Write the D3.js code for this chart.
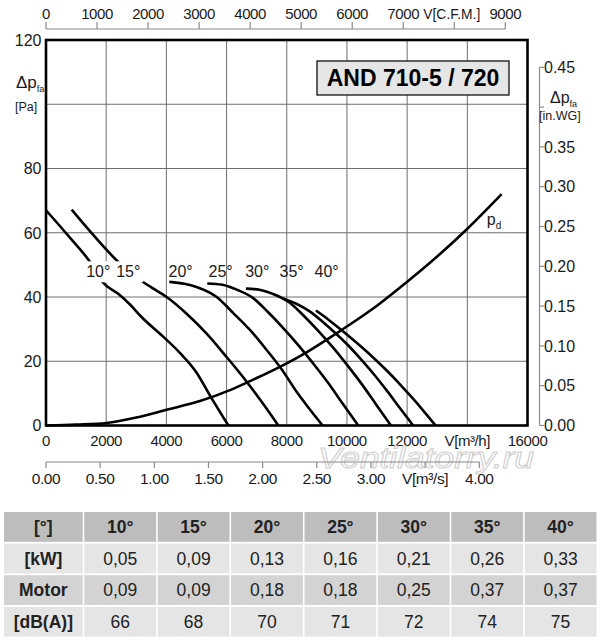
<!DOCTYPE html>
<html><head><meta charset="utf-8">
<script src="https://cdn.jsdelivr.net/npm/d3@7"></script>
<style>
body{margin:0;background:#fff}
svg{display:block}
text{font-family:"Liberation Sans",Arial,Helvetica,sans-serif}
</style>
</head><body>
<svg id="c" width="600" height="640"></svg>
<script>
// ---------- data ----------
const flowTicks = [0,2000,4000,6000,8000,10000,12000,14000,16000];
const flowTickLabels = ["0","2000","4000","6000","8000","10000","12000","V[m³/h]","16000"];
const cfmTicks = [0,1000,2000,3000,4000,5000,6000,7000,8000,9000];
const cfmTickLabels = ["0","1000","2000","3000","4000","5000","6000","7000","V[C.F.M.]","9000"];
const m3sTicks = [0,0.5,1,1.5,2,2.5,3,3.5,4];
const m3sTickLabels = ["0.00","0.50","1.00","1.50","2.00","2.50","3.00","V[m³/s]","4.00"];
const paTicks = [0,20,40,60,80,100,120];
const paTickLabels = ["0","20","40","60","80","","120"];
const inwgTicks = [0,0.05,0.10,0.15,0.20,0.25,0.30,0.35,0.40,0.45];
const inwgTickLabels = ["0.00","0.05","0.10","0.15","0.20","0.25","0.30","0.35","","0.45"];

const angles = ["10°","15°","20°","25°","30°","35°","40°"];
// [V m³/h, Δp Pa]
const curve10 = [[0,67],[700,59.5],[1462,50.9],[1883,44.6],[2400,41],[2800,37.6],[3150,34],[3900,27.6],[4450,22.6],[5000,16.5],[5450,9.3],[6060,0]];
const curve15 = [[853,67.2],[1600,59],[2403,50.9],[3067,45.7],[3500,43],[4009,40],[4673,34.8],[5338,28.6],[6003,21.3],[6400,16.8],[6777,12.3],[7250,6.3],[7720,0]];
const curve20 = [[4097,44.7],[4600,44.1],[5000,43.1],[5670,40],[6224,35],[6800,29.5],[7332,23.5],[7830,17.5],[8328,10.5],[8750,5.2],[9192,0]];
const curve25 = [[5359,44.2],[5861,43.8],[6362,42.2],[6864,39.8],[7366,35.4],[7868,30.5],[8369,25.2],[8871,19.4],[9373,13.3],[9874,6.6],[10376,0]];
const curve30 = [[6645,42.6],[7127,42.2],[7608,40.7],[8090,38.3],[8572,34.1],[9054,29.4],[9535,24.3],[10017,18.7],[10499,12.8],[10980,6.4],[11462,0]];
const curve35 = [[7885,39.5],[8317,37.9],[8749,35.6],[9180,32.4],[9612,28.8],[10044,24.9],[10476,20.5],[10908,15.8],[11339,10.7],[11771,5.3],[12203,0]];
const curve40 = [[8970,35.8],[9368,33.1],[9765,30.1],[10163,27.0],[10561,23.8],[10959,20.4],[11356,16.8],[11754,12.9],[12152,8.8],[12549,4.5],[12947,0]];
const pdCurve = [[0,0],[1000,0.3],[2016,0.8],[3000,2.5],[4009,4.9],[5116,7.6],[6113,11],[6777,13.8],[7885,18.8],[8660,22.8],[9767,29.4],[10986,37.2],[11983,44.6],[12425,48],[13977,61],[15140,72]];
const angleLabelPos = [[1738,48],[2734,48],[4475,48],[5804,48],[7020,48],[8163,48],[9326,48]];
const maskedLabels = ["10°","15°"];
const title = "AND 710-5 / 720";
const watermark = "Ventilatorry.ru";

const tableHeader = ["[°]","10°","15°","20°","25°","30°","35°","40°"];
const rowKW = ["[kW]","0,05","0,09","0,13","0,16","0,21","0,26","0,33"];
const rowMotor = ["Motor","0,09","0,09","0,18","0,18","0,25","0,37","0,37"];
const rowDB = ["[dB(A)]","66","68","70","71","72","74","75"];

// ---------- scales ----------
const svg = d3.select("#c");
const L = 46, R = 527.5, T = 40, B = 425.5;
const x = d3.scaleLinear().domain([0,16000]).range([L,R]);
const y = d3.scaleLinear().domain([0,120]).range([B,T]);
const xCfm = d3.scaleLinear().domain([0,9000]).range([L,505.3]);
const xM3s = d3.scaleLinear().domain([0,4]).range([L,479.3]);
const yWg = d3.scaleLinear().domain([0,0.45]).range([B,67.3]);

const gridColor = "#6e6e6e", axisColor = "#8a8a8a", txt = "#1a1a1a";
const axFont = 15, axSpacing = -0.4;

// grid
const g = svg.append("g");
g.selectAll("line.v").data(flowTicks.slice(1,-1)).join("line")
  .attr("x1",d=>x(d)).attr("x2",d=>x(d)).attr("y1",T).attr("y2",B)
  .attr("stroke",gridColor).attr("stroke-width",1);
g.selectAll("line.h").data(paTicks.slice(1,-1)).join("line")
  .attr("x1",L).attr("x2",R).attr("y1",d=>y(d)).attr("y2",d=>y(d))
  .attr("stroke",gridColor).attr("stroke-width",1);

// curves
const line = d3.line().x(d=>x(d[0])).y(d=>y(d[1])).curve(d3.curveMonotoneX);
const curves = [curve10,curve15,curve20,curve25,curve30,curve35,curve40,pdCurve];
svg.append("g").selectAll("path").data(curves).join("path")
  .attr("d",line).attr("fill","none").attr("stroke","#000").attr("stroke-width",2.6)
  .attr("stroke-linejoin","round");

// angle labels
const al = svg.append("g");
angles.forEach((a,i)=>{
  const cx = x(angleLabelPos[i][0]), cy = y(angleLabelPos[i][1]);
  if (maskedLabels.includes(a)) {
    al.append("rect").attr("x",cx-15).attr("y",cy-10).attr("width",30).attr("height",21).attr("fill","#fff");
  }
  al.append("text").attr("x",cx).attr("y",cy).attr("dy","0.36em").attr("text-anchor","middle")
    .attr("font-size",16).attr("fill",txt).text(a);
});
// p_d label
const pdl = svg.append("text").attr("x",x(14650)).attr("y",y(62.5)).attr("font-size",16).attr("fill",txt);
pdl.append("tspan").text("p");
pdl.append("tspan").attr("font-size",10).attr("dy",4).text("d");

// frame
svg.append("rect").attr("x",L).attr("y",T).attr("width",R-L).attr("height",B-T)
  .attr("fill","none").attr("stroke","#000").attr("stroke-width",2.6);

// title box
svg.append("rect").attr("x",317).attr("y",61).attr("width",192).attr("height",34)
  .attr("fill","#e6e6e6").attr("stroke","#111").attr("stroke-width",1.3);
svg.append("text").attr("x",413).attr("y",78).attr("dy","0.36em").attr("text-anchor","middle")
  .attr("font-size",23).attr("font-weight","bold").attr("fill","#000").text(title);

// left axis labels
svg.append("g").selectAll("text").data(paTicks).join("text")
  .attr("x",41.5).attr("y",d=>y(d)).attr("dy","0.36em").attr("text-anchor","end")
  .attr("font-size",16).attr("fill",txt).text((d,i)=>paTickLabels[i]);
const lt = svg.append("text").attr("x",16).attr("y",88).attr("font-size",17).attr("fill",txt);
lt.append("tspan").text("Δp");
lt.append("tspan").attr("font-size",9).attr("dy",4).text("fa");
svg.append("text").attr("x",15).attr("y",111).attr("font-size",12.5).attr("fill",txt).text("[Pa]");

// right axis
const ra = svg.append("g");
ra.append("line").attr("x1",539.5).attr("x2",539.5).attr("y1",yWg(0.45)).attr("y2",yWg(0))
  .attr("stroke",axisColor).attr("stroke-width",1.2);
ra.selectAll("line.t").data(inwgTicks).join("line")
  .attr("x1",539.5).attr("x2",544).attr("y1",d=>yWg(d)).attr("y2",d=>yWg(d))
  .attr("stroke",axisColor).attr("stroke-width",1.2);
ra.selectAll("text").data(inwgTicks).join("text")
  .attr("x",544).attr("y",d=>yWg(d)).attr("dy","0.36em")
  .attr("font-size",16).attr("fill",txt).text((d,i)=>inwgTickLabels[i]);
const rt = svg.append("text").attr("x",550).attr("y",103).attr("font-size",16).attr("fill",txt);
rt.append("tspan").text("Δp");
rt.append("tspan").attr("font-size",9).attr("dy",4).text("fa");
svg.append("text").attr("x",539).attr("y",120).attr("font-size",12.5).attr("fill",txt).text("[in.WG]");

// top CFM axis
const ta = svg.append("g");
ta.append("line").attr("x1",xCfm(0)).attr("x2",xCfm(9000)).attr("y1",29).attr("y2",29)
  .attr("stroke",axisColor).attr("stroke-width",1.2);
ta.selectAll("line.t").data(cfmTicks).join("line")
  .attr("x1",d=>xCfm(d)).attr("x2",d=>xCfm(d)).attr("y1",29).attr("y2",22)
  .attr("stroke",axisColor).attr("stroke-width",1.2);
ta.selectAll("text").data(cfmTicks).join("text")
  .each(function(d,i){
    const t = d3.select(this), lab = cfmTickLabels[i];
    if (lab.startsWith("V")) {
      t.attr("x",xCfm(d)-31).attr("text-anchor","start").attr("textLength",57).attr("lengthAdjust","spacingAndGlyphs");
    } else {
      t.attr("x",xCfm(d)).attr("text-anchor","middle").attr("letter-spacing",axSpacing);
    }
  })
  .attr("y",19).attr("font-size",axFont).attr("fill",txt).text((d,i)=>cfmTickLabels[i]);

// bottom m3/h labels
svg.append("g").selectAll("text").data(flowTicks).join("text")
  .attr("x",d=>x(d)).attr("y",446).attr("text-anchor","middle")
  .attr("font-size",axFont).attr("letter-spacing",axSpacing).attr("fill",txt).text((d,i)=>flowTickLabels[i]);

// watermark
svg.append("text").attr("x",318).attr("y",468)
  .attr("font-size",29).attr("font-style","italic").attr("fill","none")
  .attr("textLength",216).attr("lengthAdjust","spacingAndGlyphs")
  .attr("stroke","#d0d0d0").attr("stroke-width",1).text(watermark);

// m3/s axis
const ba = svg.append("g");
ba.append("line").attr("x1",xM3s(0)).attr("x2",xM3s(4)).attr("y1",462).attr("y2",462)
  .attr("stroke",axisColor).attr("stroke-width",1.2);
ba.selectAll("line.t").data(m3sTicks).join("line")
  .attr("x1",d=>xM3s(d)).attr("x2",d=>xM3s(d)).attr("y1",462).attr("y2",468)
  .attr("stroke",axisColor).attr("stroke-width",1.2);
ba.selectAll("text").data(m3sTicks).join("text")
  .attr("x",d=>xM3s(d)).attr("y",483.5).attr("text-anchor","middle")
  .attr("font-size",axFont+0.5).attr("letter-spacing",axSpacing).attr("fill",txt).text((d,i)=>m3sTickLabels[i]);

// table
const rows = [tableHeader,rowKW,rowMotor,rowDB];
const rowFill = ["#bdbdbd","#e5e5e5","#d3d3d3","#e5e5e5"];
const rowTop = 512, rowPitch = 31.6, rowH = 29.8;
const colX = i => i===0 ? 4 : 84.3 + (i-1)*73.4;
const colW = i => i===0 ? 78.7 : 71.8;
const tg = svg.append("g");
rows.forEach((r,ri)=>{
  r.forEach((c,ci)=>{
    const cx = colX(ci), cy = rowTop + ri*rowPitch;
    tg.append("rect").attr("x",cx).attr("y",cy).attr("width",colW(ci)).attr("height",rowH).attr("fill",rowFill[ri]);
    tg.append("text").attr("x",cx+colW(ci)/2).attr("y",cy+rowH/2).attr("dy","0.36em")
      .attr("text-anchor","middle").attr("font-size",17.5)
      .attr("font-weight",(ri===0||ci===0)?"bold":"normal").attr("fill","#222").text(c);
  });
});
</script>
</body></html>
